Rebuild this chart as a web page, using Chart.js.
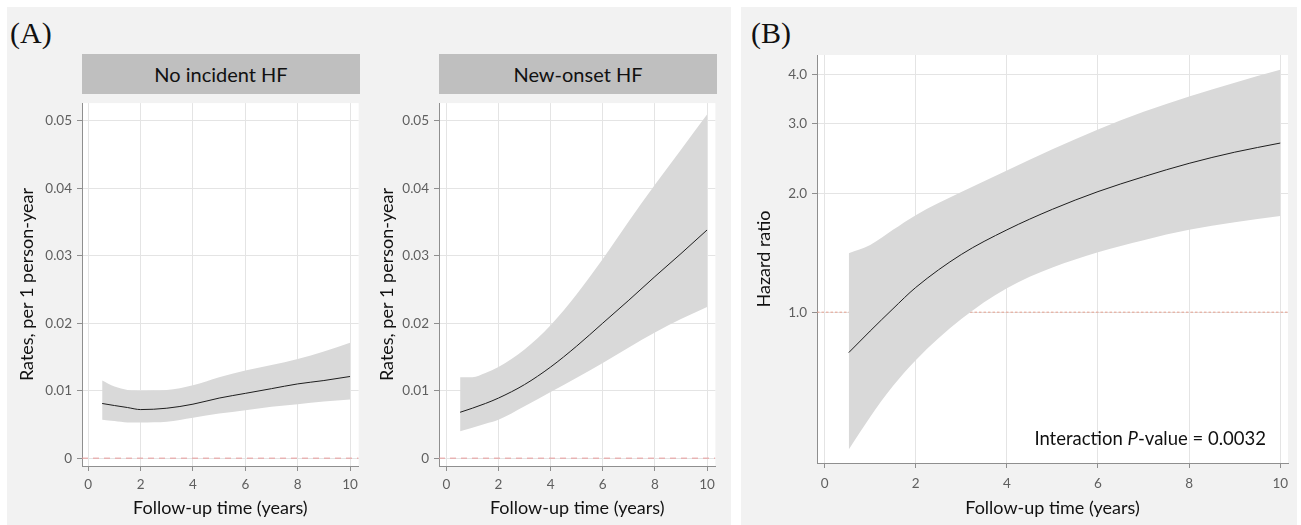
<!DOCTYPE html>
<html>
<head>
<meta charset="utf-8">
<script src="https://cdn.jsdelivr.net/npm/chart.js@4"></script>
<style>
  body { margin: 0; width: 1301px; height: 525px; background: #fff; position: relative; overflow: hidden; font-family: Lato, sans-serif; }
  .bg { position: absolute; background: #f2f2f2; }
  .tag { position: absolute; font-family: 'Liberation Serif', serif; font-size: 30px; line-height: 30px; color: #111; }
  .strip { position: absolute; background: #bfbfbf; color: #111; font-size: 20px; line-height: 40px; text-align: center; }
  canvas { position: absolute; }
</style>
</head>
<body>
<div class="bg" style="left:7px;top:7px;width:724px;height:518px"></div>
<div class="bg" style="left:741px;top:7px;width:556px;height:518px"></div>
<div class="tag" style="left:10px;top:18px">(A)</div>
<div class="tag" style="left:751px;top:18px">(B)</div>
<div class="strip" style="left:82px;top:54px;width:278px;height:40px">No incident HF</div>
<div class="strip" style="left:439px;top:54px;width:278px;height:40px">New-onset HF</div>
<canvas id="noHf" width="357" height="435" style="left:7px;top:90px"></canvas>
<canvas id="newHf" width="357" height="435" style="left:364px;top:90px"></canvas>
<canvas id="hr" width="556" height="485" style="left:741px;top:40px"></canvas>
<script>
// follow-up time points (years)
const years = [0.53, 1, 1.5, 2, 3, 4, 5, 6, 7, 8, 9, 10];

// (A) rates per 1 person-year
const noHfRate  = [0.0081, 0.0078, 0.0075, 0.0072, 0.0074, 0.0080, 0.0089, 0.0096, 0.0103, 0.0110, 0.0115, 0.0121];
const noHfLower = [0.0057, 0.0055, 0.0053, 0.0053, 0.0054, 0.0060, 0.0066, 0.0071, 0.0076, 0.0080, 0.0084, 0.0087];
const noHfUpper = [0.0115, 0.0106, 0.0101, 0.0100, 0.0101, 0.0108, 0.0120, 0.0130, 0.0138, 0.0147, 0.0158, 0.0171];

const newHfRate  = [0.0068, 0.0074, 0.0081, 0.0089, 0.0109, 0.0135, 0.0166, 0.0200, 0.0234, 0.0269, 0.0303, 0.0338];
const newHfLower = [0.0040, 0.0045, 0.0051, 0.0057, 0.0077, 0.0098, 0.0119, 0.0141, 0.0164, 0.0186, 0.0206, 0.0224];
const newHfUpper = [0.0120, 0.0120, 0.0126, 0.0135, 0.0161, 0.0197, 0.0243, 0.0295, 0.0351, 0.0405, 0.0457, 0.0509];

// (B) hazard ratio
const hrValue = [0.790, 0.896, 1.020, 1.155, 1.400, 1.616, 1.822, 2.020, 2.203, 2.382, 2.542, 2.681];
const hrLower = [0.449, 0.543, 0.650, 0.756, 0.961, 1.150, 1.297, 1.419, 1.522, 1.616, 1.690, 1.751];
const hrUpper = [1.410, 1.480, 1.616, 1.760, 2.014, 2.284, 2.586, 2.901, 3.216, 3.518, 3.812, 4.108];

// tick labels
const yearTicks = [0, 2, 4, 6, 8, 10];
const rateTicks = [0, 0.01, 0.02, 0.03, 0.04, 0.05];
const hrTicks = [1, 2, 3, 4];

const textGray = '#5f5f5f';
const axisGray = '#8f8f8f';
const gridGray = '#e4e4e4';

const pts = (ys) => years.map((x, i) => ({ x: x, y: ys[i] }));

const whiteArea = {
  id: 'whiteArea',
  beforeDraw(chart) {
    const a = chart.chartArea;
    chart.ctx.save();
    chart.ctx.fillStyle = '#fff';
    chart.ctx.fillRect(a.left, a.top, a.right - a.left, a.bottom - a.top);
    chart.ctx.restore();
  }
};

const pValueNote = {
  id: 'pValueNote',
  afterDraw(chart) {
    const ctx = chart.ctx;
    const a = chart.chartArea;
    const parts = [['Interaction ', 'normal'], ['P', 'italic'], ['-value = 0.0032', 'normal']];
    ctx.save();
    ctx.fillStyle = '#111';
    ctx.textBaseline = 'alphabetic';
    let total = 0;
    parts.forEach(p => { ctx.font = p[1] + ' 18.5px Lato'; total += ctx.measureText(p[0]).width; });
    let x = a.right - 22 - total;
    parts.forEach(p => {
      ctx.font = p[1] + ' 18.5px Lato';
      ctx.fillText(p[0], x, a.bottom - 18);
      x += ctx.measureText(p[0]).width;
    });
    ctx.restore();
  }
};

function makeChart(id, o) {
  const datasets = [
    { data: pts(o.mid), borderColor: '#1e1e1e', borderWidth: 1, pointRadius: 0, cubicInterpolationMode: 'monotone', fill: false },
    { data: pts(o.upper), borderWidth: 0, pointRadius: 0, cubicInterpolationMode: 'monotone', backgroundColor: '#d9d9d9', fill: '+1' },
    { data: pts(o.lower), borderWidth: 0, pointRadius: 0, cubicInterpolationMode: 'monotone', fill: false },
    { data: [{ x: o.xMin, y: o.ref }, { x: o.xMax, y: o.ref }], borderColor: o.refColor, borderWidth: 1,
      borderDash: o.refDash, pointRadius: 0, fill: false }
  ];
  return new Chart(document.getElementById(id), {
    type: 'line',
    data: { datasets: datasets },
    plugins: o.plugins,
    options: {
      responsive: false,
      animation: false,
      layout: { padding: o.padding },
      plugins: { legend: { display: false }, tooltip: { enabled: false } },
      scales: {
        x: {
          type: 'linear',
          min: o.xMin,
          max: o.xMax,
          afterFit: (s) => { s.height = o.xHeight; },
          afterBuildTicks: (s) => { s.ticks = yearTicks.map(v => ({ value: v })); },
          ticks: { autoSkip: false, maxRotation: 0, padding: o.xTickPad, color: textGray, font: { family: 'Lato', size: 13.5 } },
          grid: { color: gridGray, tickColor: axisGray, tickLength: 5 },
          border: { color: axisGray, width: 1 },
          title: { display: true, text: 'Follow-up time (years)', color: '#111', font: { family: 'Lato', size: 18 },
                   padding: { top: 0, bottom: 6 } }
        },
        y: {
          type: o.yType,
          min: o.yMin,
          max: o.yMax,
          afterFit: (s) => { s.width = o.yWidth; },
          afterBuildTicks: (s) => { s.ticks = o.yTicks.map(v => ({ value: v })); },
          ticks: { autoSkip: false, padding: 5, color: textGray, font: { family: 'Lato', size: 13.5 }, callback: o.yFormat },
          grid: { color: gridGray, tickColor: axisGray, tickLength: 5 },
          border: { color: axisGray, width: 1 },
          title: { display: true, text: o.yTitle, color: '#111', font: { family: 'Lato', size: 18 },
                   padding: { top: o.yTitlePad, bottom: 0 } }
        }
      }
    }
  });
}

const rateFormat = (v) => v === 0 ? '0' : Number(v).toFixed(2);

makeChart('noHf', {
  mid: noHfRate, lower: noHfLower, upper: noHfUpper,
  xMin: -0.24, xMax: 10.33, yType: 'linear', yMin: -0.00116, yMax: 0.0526, yTicks: rateTicks, yFormat: rateFormat,
  ref: 0, refColor: '#e79a9a', refDash: [6, 5],
  yTitle: 'Rates, per 1 person-year', yTitlePad: 9, yWidth: 75, xHeight: 59, xTickPad: 6,
  padding: { top: 4, right: 4.5, left: 0, bottom: 0 }, plugins: [whiteArea]
});

makeChart('newHf', {
  mid: newHfRate, lower: newHfLower, upper: newHfUpper,
  xMin: -0.28, xMax: 10.32, yType: 'linear', yMin: -0.00116, yMax: 0.0526, yTicks: rateTicks, yFormat: rateFormat,
  ref: 0, refColor: '#e79a9a', refDash: [6, 5],
  yTitle: 'Rates, per 1 person-year', yTitlePad: 12, yWidth: 75, xHeight: 59, xTickPad: 6,
  padding: { top: 4, right: 4.3, left: 0, bottom: 0 }, plugins: [whiteArea]
});

makeChart('hr', {
  mid: hrValue, lower: hrLower, upper: hrUpper,
  xMin: -0.167, xMax: 10.17, yType: 'logarithmic', yMin: 0.415, yMax: 4.48, yTicks: hrTicks,
  yFormat: (v) => Number(v).toFixed(1),
  ref: 1, refColor: '#e6a08f', refDash: [2.5, 2],
  yTitle: 'Hazard ratio', yTitlePad: 12, yWidth: 76, xHeight: 62, xTickPad: 8,
  padding: { top: 15, right: 9, left: 0, bottom: 0 }, plugins: [whiteArea, pValueNote]
});
</script>
</body>
</html>
